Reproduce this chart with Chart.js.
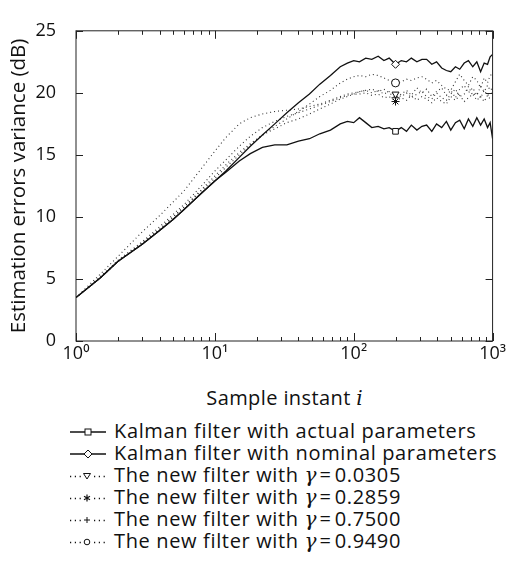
<!DOCTYPE html>
<html>
<head>
<meta charset="utf-8">
<script src="https://cdn.jsdelivr.net/npm/chart.js@4.4.1/dist/chart.umd.min.js"></script>
<style>
  html, body { margin: 0; padding: 0; background: #fff; }
  #wrap { position: relative; width: 508px; height: 578px; font-family: 'Open Sans', sans-serif; color: #111; }
  #plot { position: absolute; left: 0; top: 0; }
  #xtitle { position: absolute; left: 76px; width: 417px; top: 386px; text-align: center; font-size: 20px; letter-spacing: 0.4px; line-height: 24px; }
  #xtitle i, #legend i { font-family: 'DejaVu Serif', serif; letter-spacing: 0; }
  #legend { position: absolute; left: 68px; top: 420px; font-size: 20px; letter-spacing: 0.65px; }
  #legend .row { height: 22px; line-height: 22px; white-space: nowrap; }
  #legend .eq { margin: 0 3px; }
  #legend svg { vertical-align: middle; margin-right: 4px; position: relative; top: -1px; }
</style>
</head>
<body>
<div id="wrap">
  <canvas id="plot" width="508" height="372"></canvas>
  <div id="xtitle">Sample instant <i>i</i></div>
  <div id="legend"></div>
</div>
<script>
// sample instants (shared by all curves)
const samples = [1, 1.5, 2, 3, 4, 5, 6, 8, 10, 12, 15, 18, 22, 27, 33, 40, 48, 57, 68, 80,
  90, 100, 110, 122, 135, 150, 165, 180, 200, 220, 240, 260, 285, 310, 335, 365, 395, 430, 465, 500,
  540, 580, 625, 670, 720, 770, 820, 870, 920, 960, 1000];

const kalmanActual = [3.5, 5.1, 6.4, 7.8, 8.9, 9.8, 10.6, 11.9, 12.9, 13.6, 14.5, 15.1, 15.6, 15.8, 15.8, 16.1, 16.3, 16.7, 17.0, 17.5,
  17.7, 17.6, 18.0, 17.6, 17.2, 17.3, 17.1, 17.2, 16.9, 17.2, 16.9, 17.4, 17.0, 17.3, 17.4, 16.9, 17.5, 17.2, 17.7, 17.0,
  17.6, 17.8, 17.1, 17.9, 17.3, 18.0, 17.4, 17.9, 17.2, 17.6, 16.3];
const kalmanNominal = [3.5, 5.1, 6.4, 7.8, 8.9, 9.8, 10.6, 11.9, 12.9, 13.7, 14.8, 15.7, 16.6, 17.5, 18.4, 19.2, 19.9, 20.7, 21.4, 22.1,
  22.4, 22.6, 22.5, 22.8, 22.7, 22.95, 22.6, 22.8, 22.3, 22.6, 22.5, 22.8, 22.5, 22.7, 22.7, 22.3, 22.5, 22.0, 21.8, 21.7,
  22.1, 21.9, 22.4, 22.6, 22.1, 22.5, 21.7, 22.4, 22.3, 22.9, 23.1];
const newG0305 = [3.5, 5.4, 6.8, 8.8, 10.1, 11.2, 12.1, 13.9, 15.3, 16.4, 17.5, 18.0, 18.3, 18.5, 18.6, 18.7, 18.9, 19.1, 19.4, 19.7,
  19.9, 20.0, 20.1, 20.2, 20.0, 20.2, 19.9, 20.1, 19.9, 19.7, 20.0, 19.6, 19.9, 20.1, 19.7, 19.5, 20.0, 19.6, 19.4, 19.9,
  20.3, 19.7, 19.9, 20.5, 19.8, 20.0, 19.6, 20.2, 19.8, 19.9, 20.0];
const newG2859 = [3.5, 5.2, 6.5, 8.0, 9.2, 10.2, 11.0, 12.5, 13.7, 14.6, 15.7, 16.5, 17.2, 17.7, 18.1, 18.4, 18.7, 19.0, 19.3, 19.6,
  19.8, 19.9, 19.9, 20.0, 19.8, 19.9, 19.6, 19.7, 19.3, 19.6, 19.4, 19.8, 19.4, 19.7, 19.5, 19.2, 19.6, 19.3, 19.1, 19.7,
  19.4, 19.8, 19.3, 19.6, 19.9, 19.4, 19.7, 19.3, 19.8, 19.5, 19.6];
const newG7500 = [3.5, 5.1, 6.4, 7.9, 9.0, 10.0, 10.8, 12.2, 13.3, 14.2, 15.2, 15.9, 16.6, 17.1, 17.6, 17.9, 18.3, 18.7, 19.1, 19.5,
  19.7, 19.9, 20.1, 20.2, 20.3, 20.1, 20.3, 20.0, 19.6, 19.9, 20.2, 19.8, 20.4, 20.0, 20.3, 19.7, 20.1, 20.4, 19.8, 20.2,
  19.6, 20.3, 20.6, 20.0, 20.4, 19.8, 20.5, 20.1, 20.6, 20.2, 20.4];
const newG9490 = [3.5, 5.1, 6.4, 7.9, 9.0, 10.0, 10.8, 12.1, 13.1, 14.0, 15.0, 15.8, 16.6, 17.3, 17.9, 18.5, 19.1, 19.7, 20.2, 20.8,
  21.1, 21.3, 21.4, 21.3, 21.5, 21.4, 21.2, 21.0, 20.8, 20.9, 21.1, 21.0, 21.2, 21.3, 21.1, 20.8, 21.0, 20.6, 20.3, 20.2,
  20.9, 21.5, 21.0, 20.6, 21.3, 21.0, 20.4, 21.2, 20.8, 21.4, 21.5];

const seriesLabels = [
  'Kalman filter with actual parameters',
  'Kalman filter with nominal parameters',
  'The new filter with γ=0.0305',
  'The new filter with γ=0.2859',
  'The new filter with γ=0.7500',
  'The new filter with γ=0.9490'
];
const seriesValues = [kalmanActual, kalmanNominal, newG0305, newG2859, newG7500, newG9490];
const markerAt = 200;

const decades = [1, 10, 100, 1000];
const decadeLabels = ['10⁰', '10¹', '10²', '10³'];
const minorTicks = [2, 3, 4, 5, 6, 7, 8, 9, 20, 30, 40, 50, 60, 70, 80, 90, 200, 300, 400, 500, 600, 700, 800, 900];
const yTicks = [0, 5, 10, 15, 20, 25];

const markers = ['rect', 'rectRot', 'triangle', 'star', 'cross', 'circle'];
const ink = '#111';

// box round the plot with inward ticks on all four sides
const frame = {
  id: 'frame',
  afterDatasetsDraw(c) {
    const { ctx, chartArea: a, scales: { x, y } } = c;
    ctx.save();
    ctx.strokeStyle = '#222';
    ctx.lineWidth = 1;
    ctx.strokeRect(a.left, a.top, a.width, a.height);
    ctx.beginPath();
    decades.concat(minorTicks).forEach(v => {
      const px = Math.round(x.getPixelForValue(v)) + 0.5;
      const len = decades.includes(v) ? 8 : 4;
      ctx.moveTo(px, a.bottom); ctx.lineTo(px, a.bottom - len);
      ctx.moveTo(px, a.top); ctx.lineTo(px, a.top + len);
    });
    yTicks.forEach(v => {
      const py = Math.round(y.getPixelForValue(v)) + 0.5;
      ctx.moveTo(a.left, py); ctx.lineTo(a.left + 7, py);
      ctx.moveTo(a.right, py); ctx.lineTo(a.right - 7, py);
    });
    ctx.stroke();
    ctx.restore();
  }
};

new Chart(document.getElementById('plot').getContext('2d'), {
  type: 'line',
  data: {
    datasets: seriesValues.map((ys, k) => ({
      label: seriesLabels[k],
      data: samples.map((x, j) => ({ x, y: ys[j] })),
      borderColor: k < 2 ? ink : '#333',
      borderWidth: k < 2 ? 1.3 : 1.1,
      borderDash: k < 2 ? [] : [1, 3],
      tension: 0,
      fill: false,
      pointStyle: markers[k],
      rotation: k === 2 ? 180 : 0,
      pointRadius: c => samples[c.dataIndex] === markerAt ? 4 : 0,
      pointBackgroundColor: '#fff',
      pointBorderColor: ink,
      pointBorderWidth: 1
    }))
  },
  options: {
    responsive: false,
    animation: false,
    layout: { padding: { top: 15, right: 15, left: 0, bottom: 0 } },
    plugins: { legend: { display: false }, tooltip: { enabled: false } },
    scales: {
      x: {
        type: 'logarithmic', min: 1, max: 1000,
        grid: { display: false, drawTicks: false }, border: { display: false },
        afterBuildTicks: s => { s.ticks = decades.map(v => ({ value: v })); },
        afterFit: s => { s.height = 31; },
        ticks: {
          font: { family: 'Open Sans', size: 18 }, color: ink, padding: 2,
          maxRotation: 0, autoSkip: false,
          callback: v => decadeLabels[decades.indexOf(v)] ?? ''
        }
      },
      y: {
        min: 0, max: 25,
        grid: { display: false, drawTicks: false }, border: { display: false },
        afterFit: s => { s.width = 76; },
        ticks: { stepSize: 5, font: { family: 'Open Sans', size: 18 }, color: ink, padding: 20 },
        title: {
          display: true, text: 'Estimation errors variance (dB)',
          font: { family: 'Open Sans', size: 20.5 }, color: ink, padding: { top: 7, bottom: 0 }
        }
      }
    }
  },
  plugins: [frame]
});

// legend: sample line with its marker, then the label
function sample(k) {
  const line = k < 2
    ? '<line x1="2" y1="7" x2="38" y2="7" stroke="#111" stroke-width="1.3"/>'
    : '<line x1="2" y1="7.5" x2="40" y2="7.5" stroke="#111" stroke-width="1.3" stroke-dasharray="1.2,3.6"/>';
  const m = {
    rect: '<rect x="17" y="4" width="6" height="6" fill="#fff" stroke="#111"/>',
    rectRot: '<path d="M20 3 L24 7 L20 11 L16 7 Z" fill="#fff" stroke="#111"/>',
    triangle: '<path d="M15.5 4.5 L22.5 4.5 L19 10 Z" fill="#fff" stroke="#111"/>',
    star: '<path d="M19 3.5 V10.5 M16 5.3 L22 8.7 M16 8.7 L22 5.3" stroke="#111" stroke-width="1.2"/>',
    cross: '<path d="M19 4 V10 M16 7 H22" stroke="#111"/>',
    circle: '<circle cx="19" cy="7" r="2.8" fill="#fff" stroke="#111"/>'
  }[markers[k]];
  const bg = k < 2 ? '' : '<rect x="13" y="0" width="12" height="14" fill="#fff"/>';
  return `<svg width="42" height="14">${line}${bg}${m}</svg>`;
}
const legendEl = document.getElementById('legend');
seriesLabels.forEach((lab, k) => {
  const row = document.createElement('div');
  row.className = 'row';
  row.innerHTML = sample(k) + '<span>' +
    lab.replace('γ=', '<i>γ</i><span class="eq">=</span>') + '</span>';
  legendEl.appendChild(row);
});
</script>
</body>
</html>
